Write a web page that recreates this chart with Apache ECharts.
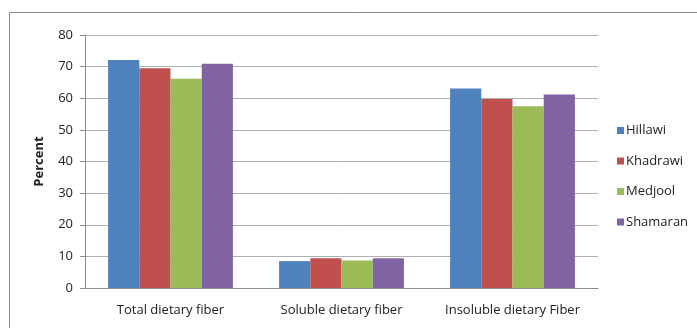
<!DOCTYPE html>
<html>
<head>
<meta charset="utf-8">
<script src="https://cdn.jsdelivr.net/npm/echarts@6/dist/echarts.min.js"></script>
<style>
html, body { margin: 0; padding: 0; background: #fff; }
#chart { width: 697px; height: 328px; }
</style>
</head>
<body>
<div id="chart"></div>
<script>
var categories = ['Total dietary fiber', 'Soluble dietary fiber', 'Insoluble dietary Fiber'];
var seriesNames = ['Hillawi', 'Khadrawi', 'Medjool', 'Shamaran'];
var hillawi = [72.1, 8.5, 63.1];
var khadrawi = [69.5, 9.4, 59.8];
var medjool = [66.2, 8.7, 57.5];
var shamaran = [70.9, 9.4, 61.2];
var yTicks = { min: 0, max: 80, interval: 10 };

var colors = ['#4f81bd', '#c0504d', '#9bbb59', '#8064a2'];
var values = [hillawi, khadrawi, medjool, shamaran];
var font = '"Open Sans", Lato, sans-serif';

var chart = echarts.init(document.getElementById('chart'));
var series = seriesNames.map(function (name, i) {
    return {
        name: name,
        type: 'bar',
        data: values[i],
        barGap: '0%',
        barCategoryGap: '27%',
        itemStyle: { color: colors[i] }
    };
});
chart.setOption({
    animation: false,
    color: colors,
    graphic: [{
        type: 'rect',
        shape: { x: 9.5, y: 12.5, width: 700, height: 330 },
        style: { fill: 'none', stroke: '#8a8a8a', lineWidth: 1 }
    }],
    grid: { left: 85, right: 99, top: 35, bottom: 40 },
    legend: {
        orient: 'vertical',
        left: 612,
        top: 118,
        itemWidth: 7,
        itemHeight: 7,
        itemGap: 15.5,
        icon: 'rect',
        textStyle: { fontFamily: font, fontSize: 13, lineHeight: 15, color: '#222', padding: [0, 0, 0, -3] },
        data: seriesNames
    },
    xAxis: {
        type: 'category',
        data: categories,
        axisLine: { lineStyle: { color: '#8c8c8c' } },
        axisTick: { show: false },
        axisLabel: { interval: 0, hideOverlap: false, fontFamily: font, fontSize: 13, color: '#222', margin: 16 }
    },
    yAxis: {
        type: 'value',
        min: yTicks.min,
        max: yTicks.max,
        interval: yTicks.interval,
        name: 'Percent',
        nameLocation: 'middle',
        nameGap: 39,
        nameTextStyle: { fontFamily: font, fontSize: 13, fontWeight: 'bold', color: '#222' },
        axisLine: { show: true, lineStyle: { color: '#8c8c8c' } },
        axisTick: { show: true, length: 5, lineStyle: { color: '#8c8c8c' } },
        axisLabel: { fontFamily: font, fontSize: 13, color: '#222', margin: 12 },
        splitLine: { lineStyle: { color: '#b0b0b0' } }
    },
    series: series
});
</script>
</body>
</html>
